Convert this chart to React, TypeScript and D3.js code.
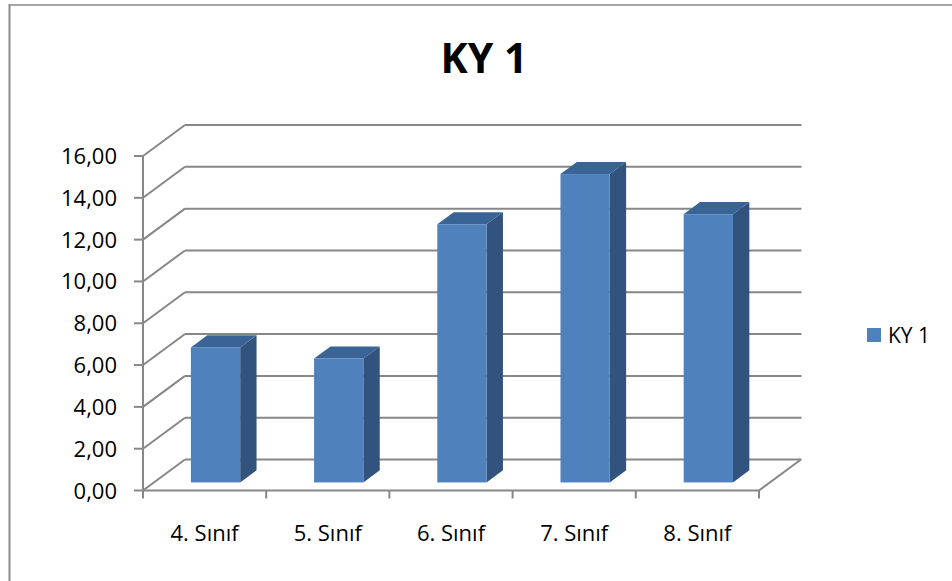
import React from "react";
import * as d3 from "d3";

const categories = ["4. Sınıf", "5. Sınıf", "6. Sınıf", "7. Sınıf", "8. Sınıf"];
const values = [6.46, 5.93, 12.35, 14.75, 12.83];
const yTicks = [0, 2, 4, 6, 8, 10, 12, 14, 16];
const seriesName = "KY 1";
const title = "KY 1";

const W = 952;
const H = 581;
const FONT = "'Open Sans', 'Liberation Sans', sans-serif";

export default function App() {
  const x0 = 143, x1 = 759;
  const yBase = 490.5, yTop = 156;
  const DX = 42, DY = -31;
  const dFront = 0.26, dBack = 0.65;

  const x = d3.scaleBand<string>().domain(categories).range([x0, x1]).padding(0);
  const y = d3.scaleLinear().domain([0, 16]).range([yBase, yTop]);
  const off = (d: number) => [DX * d, DY * d];
  const grid = "#878787";
  const fmt = (v: number) => v.toFixed(2).replace(".", ",");

  const barW = x.bandwidth() * 0.4;
  const [fx, fy] = off(dFront);
  const sdx = DX * (dBack - dFront), sdy = DY * (dBack - dFront);

  return (
    <svg width={W} height={H} style={{ position: "absolute", left: 0, top: 0, background: "#fff" }}>
      <rect x={0} y={0} width={W} height={H} fill="#fff" />
      {/* outer border */}
      <line x1={9.5} y1={5} x2={W} y2={5} stroke="#a6a6a6" strokeWidth={2} />
      <line x1={9.5} y1={4} x2={9.5} y2={H} stroke="#8c8c8c" strokeWidth={2} />

      <text x={484} y={73} textAnchor="middle" fontFamily={FONT} fontWeight="bold" fontSize={41} fill="#000">{title}</text>

      {/* walls gridlines */}
      {yTicks.map((t) => (
        <g key={t}>
          <line x1={x0} y1={y(t)} x2={x0 + DX} y2={y(t) + DY} stroke={grid} strokeWidth={2} />
          <line x1={x0 + DX} y1={y(t) + DY} x2={x1 + DX + 0.5} y2={y(t) + DY} stroke={grid} strokeWidth={2} />
          <line x1={x0 - 9} y1={y(t)} x2={x0} y2={y(t)} stroke={grid} strokeWidth={2} />
          <text x={117} y={y(t) + 8} textAnchor="end" fontFamily={FONT} fontSize={22} fill="#000">{fmt(t)}</text>
        </g>
      ))}
      {/* floor */}
      <line x1={x0} y1={yBase} x2={x1} y2={yBase} stroke={grid} strokeWidth={2} />
      <line x1={x1} y1={yBase} x2={x1 + DX} y2={yBase + DY} stroke={grid} strokeWidth={2} />
      <line x1={x0} y1={yTop} x2={x0} y2={yBase + 7} stroke={grid} strokeWidth={2} />
      {categories.map((c) => (
        <line key={"t" + c} x1={x(c)!} y1={yBase} x2={x(c)!} y2={yBase + 8} stroke={grid} strokeWidth={2} />
      ))}
      <line x1={x1} y1={yBase} x2={x1} y2={yBase + 8} stroke={grid} strokeWidth={2} />

      {/* bars */}
      {categories.map((c, i) => {
        const bx = x(c)! + (x.bandwidth() - barW) / 2 + fx;
        const by0 = y(0) + fy;
        const by1 = y(values[i]) + fy;
        const top = `M${bx},${by1} L${bx + sdx},${by1 + sdy} L${bx + barW + sdx},${by1 + sdy} L${bx + barW},${by1} Z`;
        const side = `M${bx + barW},${by1} L${bx + barW + sdx},${by1 + sdy} L${bx + barW + sdx},${by0 + sdy} L${bx + barW},${by0} Z`;
        return (
          <g key={c}>
            <path d={side} fill="#31537d" />
            <path d={top} fill="#3b6496" />
            <rect x={bx} y={by1} width={barW} height={by0 - by1} fill="#4f81bd" />
          </g>
        );
      })}

      {categories.map((c) => (
        <text key={"l" + c} x={x(c)! + x.bandwidth() / 2} y={541} textAnchor="middle" fontFamily={FONT} fontSize={22} fill="#000">{c}</text>
      ))}

      {/* legend */}
      <rect x={867} y={328} width={14} height={14} fill="#4f81bd" />
      <text x={888} y={343} fontFamily={FONT} fontSize={21} fill="#000">{seriesName}</text>
    </svg>
  );
}
